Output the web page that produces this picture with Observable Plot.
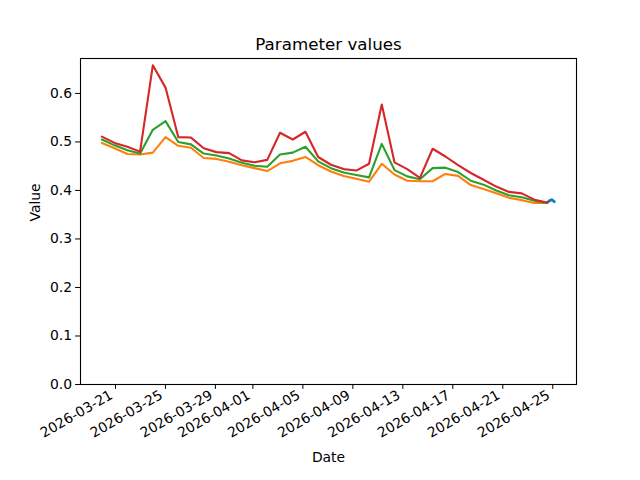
<!DOCTYPE html>
<html>
<head>
<meta charset="utf-8">
<script src="https://cdn.jsdelivr.net/npm/d3@7"></script>
<script src="https://cdn.jsdelivr.net/npm/@observablehq/plot@0.6"></script>
<style>
  html, body { margin: 0; padding: 0; background: white; }
</style>
</head>
<body>
<div id="chart"></div>
<script>
const dates = [
  "2026-03-19T22:00Z","2026-03-20T22:26Z","2026-03-21T22:52Z","2026-03-22T23:18Z",
  "2026-03-23T23:44Z","2026-03-25T00:10Z","2026-03-26T00:36Z","2026-03-27T01:02Z",
  "2026-03-28T01:28Z","2026-03-29T01:54Z","2026-03-30T02:20Z","2026-03-31T02:46Z",
  "2026-04-01T03:12Z","2026-04-02T03:38Z","2026-04-03T04:04Z","2026-04-04T04:30Z",
  "2026-04-05T04:56Z","2026-04-06T05:22Z","2026-04-07T05:48Z","2026-04-08T06:14Z",
  "2026-04-09T06:40Z","2026-04-10T07:06Z","2026-04-11T07:32Z","2026-04-12T07:58Z",
  "2026-04-13T08:24Z","2026-04-14T08:50Z","2026-04-15T09:16Z","2026-04-16T09:42Z",
  "2026-04-17T10:08Z","2026-04-18T10:34Z","2026-04-19T11:00Z","2026-04-20T11:26Z",
  "2026-04-21T11:52Z","2026-04-22T12:18Z","2026-04-23T12:44Z","2026-04-24T13:10Z"
];
const orangeValues = [0.498,0.487,0.475,0.474,0.478,0.510,0.492,0.488,0.467,0.465,0.459,0.452,
  0.446,0.440,0.456,0.461,0.469,0.452,0.439,0.430,0.424,0.418,0.455,0.433,
  0.420,0.419,0.419,0.434,0.430,0.411,0.403,0.394,0.385,0.380,0.374,0.374];
const greenValues = [0.505,0.493,0.483,0.476,0.525,0.543,0.500,0.495,0.476,0.472,0.466,0.457,
  0.451,0.449,0.474,0.478,0.490,0.460,0.446,0.437,0.432,0.427,0.496,0.442,
  0.429,0.423,0.446,0.447,0.438,0.420,0.412,0.400,0.390,0.386,0.379,0.374];
const redValues = [0.511,0.498,0.490,0.480,0.658,0.612,0.510,0.509,0.487,0.479,0.477,0.462,
  0.458,0.463,0.519,0.505,0.521,0.469,0.453,0.444,0.441,0.455,0.577,0.458,
  0.444,0.426,0.486,0.470,0.452,0.436,0.422,0.408,0.397,0.394,0.381,0.375];
const blueDates = ["2026-04-24T13:00Z","2026-04-24T18:00Z","2026-04-24T22:00Z","2026-04-25T03:00Z"];
const blueValues = [0.375,0.379,0.381,0.377];

const xTicks = ["2026-03-21","2026-03-25","2026-03-29","2026-04-01","2026-04-05",
  "2026-04-09","2026-04-13","2026-04-17","2026-04-21","2026-04-25"];
const yTicks = [0,0.1,0.2,0.3,0.4,0.5,0.6];

const mk = (ds, vs) => ds.map((d, i) => ({date: new Date(d), value: vs[i]}));
const blue = mk(blueDates, blueValues);
const orange = mk(dates, orangeValues);
const green = mk(dates, greenValues);
const red = mk(dates, redValues);

const fmt = d3.utcFormat("%Y-%m-%d");
const xTickDates = xTicks.map(d => new Date(d + "T00:00Z"));

const chart = Plot.plot({
  width: 640,
  height: 480,
  marginLeft: 80,
  marginRight: 64,
  marginTop: 58,
  marginBottom: 96,
  style: {fontFamily: "DejaVu Sans", fontSize: "13.9px", background: "white", color: "black"},
  x: {type: "utc", domain: [new Date("2026-03-18T04:50Z"), new Date("2026-04-26T21:36Z")]},
  y: {domain: [0, 0.672]},
  marks: [
    Plot.line(blue, {x: "date", y: "value", stroke: "#1f77b4", strokeWidth: 2.8}),
    Plot.line(orange, {x: "date", y: "value", stroke: "#ff7f0e", strokeWidth: 2.1}),
    Plot.line(green, {x: "date", y: "value", stroke: "#2ca02c", strokeWidth: 2.1}),
    Plot.line(red, {x: "date", y: "value", stroke: "#d62728", strokeWidth: 2.1}),
    Plot.frame({stroke: "black", strokeWidth: 1.1}),
    Plot.axisY({ticks: yTicks, tickFormat: d3.format(".1f"), tickSize: 4.9, tickPadding: 3.5, label: null, fontSize: 13.9}),
    Plot.axisX({ticks: xTickDates, tickFormat: () => "", tickSize: 4.9, label: null}),
    Plot.axisX({ticks: xTickDates, tickFormat: fmt, tickSize: 0, tickPadding: 8.4,
      tickRotate: -30, textAnchor: "end", label: null, fontSize: 13.9, dx: -4, dy: 1}),
    Plot.text(["Date"], {text: d => d, frameAnchor: "bottom", dy: 77, fontSize: 13.9}),
    Plot.text(["Value"], {text: d => d, frameAnchor: "left", dx: -45, rotate: -90, fontSize: 13.9}),
    Plot.text(["Parameter values"], {text: d => d, frameAnchor: "top", dy: -20, fontSize: 16.7})
  ]
});
document.getElementById("chart").appendChild(chart);
</script>
</body>
</html>
